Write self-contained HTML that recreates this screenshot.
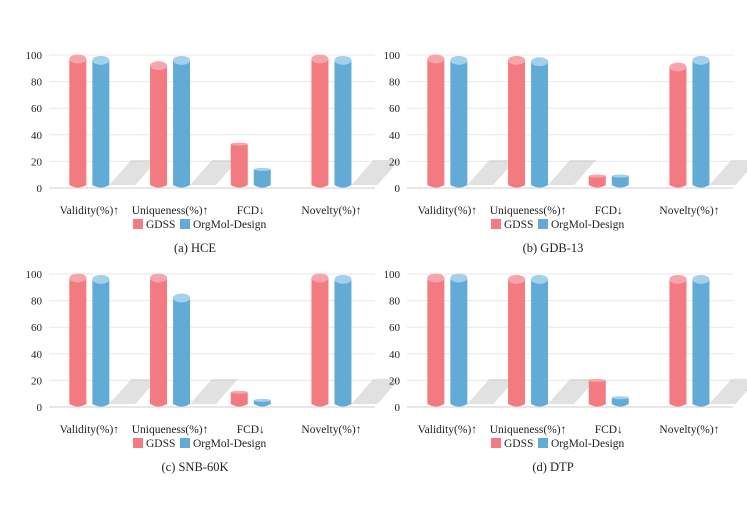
<!DOCTYPE html>
<html><head><meta charset="utf-8"><style>
body{margin:0;background:#fff;width:747px;height:508px;overflow:hidden;font-family:"Liberation Serif",serif}
svg text{font-family:"Liberation Serif",serif;fill:#222}
</style></head><body>
<svg id="c" width="747" height="508"></svg>
<script>
const categories=["Validity(%)↑","Uniqueness(%)↑","FCD↓","Novelty(%)↑"];
const series=["GDSS","OrgMol-Design"];
const panelTitles=["(a) HCE","(b) GDB-13","(c) SNB-60K","(d) DTP"];
const gdssA=[97,92,33,97], orgA=[96,96,14,96];
const gdssB=[97,96,9,91], orgB=[96,95,9,96];
const gdssC=[97,97,11,97], orgC=[96,82,5,96];
const gdssD=[97,96,20,96], orgD=[97,96,7,96];
const yTicks=[0,20,40,60,80,100];
const NS="http://www.w3.org/2000/svg";
const svg=document.getElementById('c');
function mk(t,a,p){const e=document.createElementNS(NS,t);for(const k in a)e.setAttribute(k,a[k]);(p||svg).appendChild(e);return e;}
const cols=["#f27a80","#62abd7"], tops=["#f6a6ab","#a4d0ea"];
const panels=[[0,0,gdssA,orgA],[358,0,gdssB,orgB],[0,219,gdssC,orgC],[358,219,gdssD,orgD]];
panels.forEach((p,pi)=>{
 const [dx,dy,g,o]=p;
 const grp=mk('g',{transform:`translate(${dx},${dy})`});
 
 
 const y0=188,sc=1.33,x0=49,gw=80.7;
 const yS=v=>y0-v*sc;
 yTicks.forEach(t=>{
  const l=mk('line',{x1:x0,x2:375,y1:yS(t),y2:yS(t),stroke:t==0?'#cfcfcf':'#e8e8e8','stroke-width':1},grp);
  
  const tx=mk('text',{x:42,y:yS(t)+4,'text-anchor':'end','font-size':11},grp);
  tx.textContent=t;
  
 });
 categories.forEach((c,i)=>{
  const cx=x0+gw*(i+0.5);
  const vals=[g[i],o[i]];
  if(Math.max(...vals)>50){
   const sh=mk('polygon',{points:`${cx+20},${y0-3} ${cx+42},${y0-28} ${cx+68},${y0-28} ${cx+46},${y0-3}`,fill:'#c8c8c8',opacity:0.55},grp);
   
  }
  vals.forEach((v,s)=>{
   const bx=cx-20+s*23, w=17, yt=yS(v);
   const r=mk('path',{d:`M${bx},${yt} L${bx+w},${yt} L${bx+w},${y0-3} Q${bx+w/2},${y0+2} ${bx},${y0-3} Z`,fill:cols[s]},grp);
   
   const e=mk('ellipse',{cx:bx+w/2,cy:yt,rx:w/2,ry:v>40?4.5:1.5,fill:tops[s]},grp);
   
  });
  const t=mk('text',{x:cx,y:214,'text-anchor':'middle','font-size':11.5},grp);
  t.textContent=c;
  
 });
 [[133,0],[180,1]].forEach(([lx,s])=>{
  const q=mk('rect',{x:lx,y:219,width:10,height:10,fill:cols[s]},grp);
  
  const t=mk('text',{x:lx+13,y:228,'font-size':11.5},grp);
  t.textContent=series[s];
  
 });
 const cap=mk('text',{x:195,y:252,'text-anchor':'middle','font-size':12.5},grp);
 cap.textContent=panelTitles[pi];
 
});
</script>
</body></html>
